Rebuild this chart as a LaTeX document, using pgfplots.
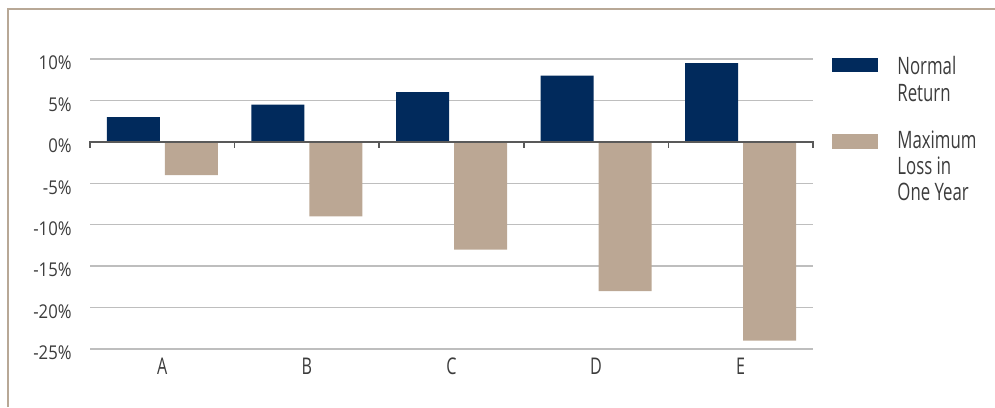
\documentclass[border=0pt]{standalone}
\usepackage{pgfplots}
\pgfplotsset{compat=1.18}
\usepackage{fontspec}
\setmainfont{Open Sans}[FakeStretch=0.7]
\newfontfamily\tickfont{Open Sans}[FakeStretch=0.88]
\definecolor{navy}{RGB}{1,42,92}
\definecolor{tanbar}{RGB}{187,167,148}
\definecolor{framec}{RGB}{184,168,150}
\definecolor{txt}{RGB}{60,60,60}
\definecolor{gridc}{RGB}{190,190,190}
\begin{document}
\begin{tikzpicture}
\path[use as bounding box] (-45pt,-29pt) rectangle (452.5pt,174.5pt);
\begin{axis}[
  at={(0,0)}, anchor=south west,
  scale only axis, width=361.5pt, height=145pt,
  xmin=-0.5, xmax=4.5, ymin=-25, ymax=10,
  xtick={0,1,2,3,4}, xticklabels={A,B,C,D,E},
  ytick={-25,-20,-15,-10,-5,0,5,10},
  yticklabels={-25\%,-20\%,-15\%,-10\%,-5\%,0\%,5\%,10\%},
  axis line style={draw=none},
  major tick length=0pt,
  ymajorgrids, grid style={gridc, line width=0.75pt},
  xticklabel style={anchor=base, inner sep=0pt, yshift=-12.5pt, font=\fontsize{11.5}{12}\selectfont, text=txt},
  yticklabel style={anchor=base east, inner sep=0pt, xshift=-9pt, yshift=-5.4pt, font=\tickfont\fontsize{9.5}{11}\selectfont, text=txt},
  clip=false,
]
\addplot[ybar, fill=navy, draw=none, bar width=26.5pt, bar shift=-14.5pt] coordinates {(0,3) (1,4.5) (2,6) (3,8) (4,9.5)};
\addplot[ybar, fill=tanbar, draw=none, bar width=26.5pt, bar shift=14.5pt] coordinates {(0,-4) (1,-9) (2,-13) (3,-18) (4,-24)};
\draw[black!65, line width=0.75pt] ([yshift=-3pt]axis cs:-0.5,0) -- (axis cs:-0.5,0) -- (axis cs:4.5,0) -- ([yshift=-3pt]axis cs:4.5,0);
\draw[black!65, line width=0.75pt] (axis cs:0.5,0) -- ([yshift=-3pt]axis cs:0.5,0);
\draw[black!65, line width=0.75pt] (axis cs:1.5,0) -- ([yshift=-3pt]axis cs:1.5,0);
\draw[black!65, line width=0.75pt] (axis cs:2.5,0) -- ([yshift=-3pt]axis cs:2.5,0);
\draw[black!65, line width=0.75pt] (axis cs:3.5,0) -- ([yshift=-3pt]axis cs:3.5,0);
\end{axis}
\draw[framec, line width=0.9pt] (-41pt,-29pt) -- (-41pt,170pt) -- (452.5pt,170pt);
\fill[navy] (371pt,138.5pt) rectangle (394pt,145.5pt);
\fill[tanbar] (371pt,100pt) rectangle (394pt,107.5pt);
\begin{scope}[every node/.style={anchor=base west, inner sep=0pt, text=txt, font=\fontsize{12}{13}\selectfont}]
\node at (403.5pt,137pt) {Normal};
\node at (403.5pt,123.6pt) {Return};
\node at (403.5pt,100pt) {Maximum};
\node at (403.5pt,87pt) {Loss in};
\node at (403.5pt,74pt) {One Year};
\end{scope}
\end{tikzpicture}
\end{document}
